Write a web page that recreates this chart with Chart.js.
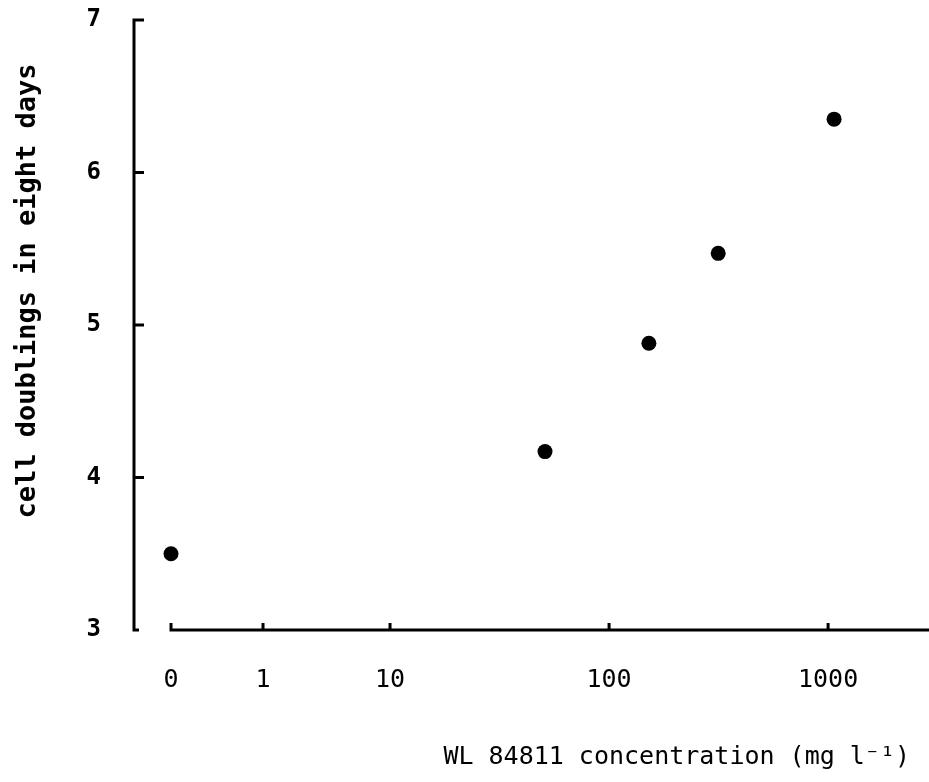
<!DOCTYPE html>
<html>
<head>
<meta charset="utf-8">
<title>Cell doublings vs WL 84811 concentration</title>
<script src="https://cdn.jsdelivr.net/npm/chart.js@4.4.1/dist/chart.umd.min.js"></script>
<style>
    html, body { margin: 0; padding: 0; background: #fff; }
    canvas { display: block; }
</style>
</head>
<body>
<canvas id="chart" width="929" height="782"></canvas>
<script>
// concentration of WL 84811 (mg l-1) and cell doublings
const concentrations = [0, 51, 152, 315, 1065];
const doublings = [3.50, 4.17, 4.88, 5.47, 6.35];

// x axis is a broken log axis: labels and where they sit (in decades)
const xTickLabels = ['0', '1', '10', '100', '1000'];
const xTickPositions = [0, 0.42, 1, 2, 3];
const yTicks = [3, 4, 5, 6, 7];

const FONT = "'DejaVu Sans Mono', monospace";

function axisPos(c) {
    return c === 0 ? 0 : Math.log10(c);
}

const points = concentrations.map((c, i) => ({ x: axisPos(c), y: doublings[i] }));

// draws the hand-style axes (inward ticks, gap at the origin) and the y title
const axesPlugin = {
    id: 'axes',
    beforeDatasetsDraw(chart) {
        const { ctx, chartArea, scales } = chart;
        const x = scales.x, y = scales.y;
        ctx.save();
        ctx.strokeStyle = '#000';
        ctx.lineWidth = 3;
        ctx.lineCap = 'butt';
        ctx.beginPath();
        ctx.moveTo(chartArea.left, chartArea.top - 1.5);
        ctx.lineTo(chartArea.left, chartArea.bottom + 1.5);
        yTicks.forEach(v => {
            const py = y.getPixelForValue(v);
            ctx.moveTo(chartArea.left, py);
            ctx.lineTo(chartArea.left + (v === yTicks[0] ? 5 : 10), py);
        });
        const x0 = x.getPixelForValue(xTickPositions[0]);
        ctx.moveTo(x0 - 1.5, chartArea.bottom);
        ctx.lineTo(chart.width, chartArea.bottom);
        xTickPositions.forEach(v => {
            const px = x.getPixelForValue(v);
            ctx.moveTo(px, chartArea.bottom);
            ctx.lineTo(px, chartArea.bottom - 7);
        });
        ctx.stroke();

        ctx.translate(28, 291);
        ctx.rotate(-Math.PI / 2);
        ctx.fillStyle = '#000';
        ctx.font = 'bold 27px ' + FONT;
        ctx.textAlign = 'center';
        ctx.textBaseline = 'middle';
        ctx.fillText('cell doublings in eight days', 0, 0);
        ctx.restore();
    }
};

new Chart(document.getElementById('chart'), {
    type: 'scatter',
    data: {
        datasets: [{
            data: points,
            backgroundColor: '#000',
            borderWidth: 0,
            pointRadius: 7.5,
            pointHoverRadius: 7.5
        }]
    },
    options: {
        responsive: false,
        devicePixelRatio: 1,
        animation: false,
        layout: { padding: { top: 20, right: 19, bottom: 0, left: 0 } },
        plugins: {
            legend: { display: false },
            tooltip: { enabled: false }
        },
        scales: {
            x: {
                type: 'linear',
                min: -0.169,
                max: 3.374,
                grid: { display: false, drawTicks: false },
                border: { display: false },
                afterBuildTicks: scale => {
                    scale.ticks = xTickPositions.map(v => ({ value: v }));
                },
                afterFit: scale => { scale.height = 152; },
                ticks: {
                    autoSkip: false,
                    maxRotation: 0,
                    padding: 35,
                    color: '#000',
                    font: { family: FONT, size: 25 },
                    callback: (value, index) => xTickLabels[index]
                },
                title: {
                    display: true,
                    align: 'end',
                    text: 'WL 84811 concentration (mg l\u207B\u00B9)',
                    color: '#000',
                    font: { family: FONT, size: 25 },
                    padding: { top: 0, bottom: 10 }
                }
            },
            y: {
                type: 'linear',
                min: 3,
                max: 7,
                grid: { display: false, drawTicks: false },
                border: { display: false },
                afterBuildTicks: scale => {
                    scale.ticks = yTicks.map(v => ({ value: v }));
                },
                afterFit: scale => {
                    scale.width = 134;
                    scale.paddingTop = 0;
                    scale.paddingBottom = 0;
                },
                ticks: {
                    padding: 33,
                    color: '#000',
                    font: { family: FONT, size: 24, weight: 'bold' }
                }
            }
        }
    },
    plugins: [axesPlugin]
});
</script>
</body>
</html>
